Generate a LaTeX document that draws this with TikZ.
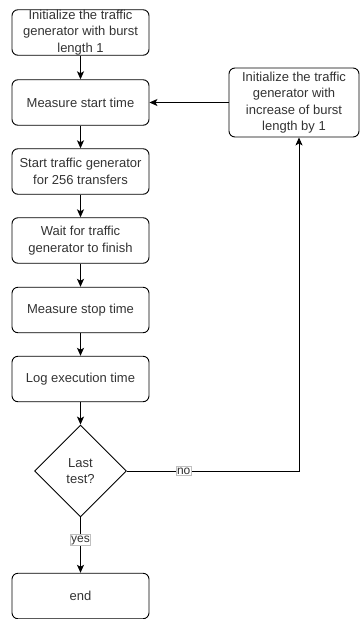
\documentclass[tikz,border=0pt]{standalone}
\usepackage{fontspec}
\setmainfont{Liberation Sans}
\usetikzlibrary{arrows.meta,shapes.geometric,calc}
\begin{document}
\begin{tikzpicture}[x=1pt,y=-1pt,
  every node/.style={font=\fontsize{13}{16.5}\selectfont, text=black!80},
  box/.style={draw, rounded corners=6pt, minimum width=137pt, minimum height=45.5pt, align=center, inner sep=0pt, line width=0.9pt},
  dia/.style={draw, diamond, aspect=1, minimum width=92pt, minimum height=92pt, align=center, inner sep=0pt, line width=0.9pt},
  lbl/.style={draw=black!25, fill=white, font=\fontsize{12}{13}\selectfont, inner sep=1pt, text=black!80},
  arr/.style={line width=0.9pt, -{Stealth[length=8pt,width=7pt,inset=2pt]}}]
\useasboundingbox (0,0) rectangle (360,619);
\node[box] (b1) at (80.5,32.5) {Initialize the traffic\\generator with burst\\length 1};
\node[box] (b2) at (80.5,102.5) {Measure start time};
\node[box] (b3) at (80.5,171.5) {Start traffic generator\\for 256 transfers};
\node[box] (b4) at (80.5,240.5) {Wait for traffic\\generator to finish};
\node[box] (b5) at (80.5,310) {Measure stop time};
\node[box] (b6) at (80.5,379) {Log execution time};
\node[dia] (d) at (80.5,471) {Last\\test?};
\node[box] (e) at (80.5,596) {end};
\node[box, minimum width=130pt, minimum height=69pt] (r) at (294,102.5) {Initialize the traffic\\generator with\\increase of burst\\length by 1};
\coordinate (cx) at (299,471);
\draw[arr] (b1) -- (b2);
\draw[arr] (b2) -- (b3);
\draw[arr] (b3) -- (b4);
\draw[arr] (b4) -- (b5);
\draw[arr] (b5) -- (b6);
\draw[arr] (b6) -- (d);
\draw[arr] (d) -- node[lbl, pos=0.41] {yes} (e);
\draw[arr] (d.east) -- node[lbl, pos=0.33] {no} (cx) -- (r.south -| cx);
\draw[arr] (r.west) -- (b2.east);
\end{tikzpicture}
\end{document}
